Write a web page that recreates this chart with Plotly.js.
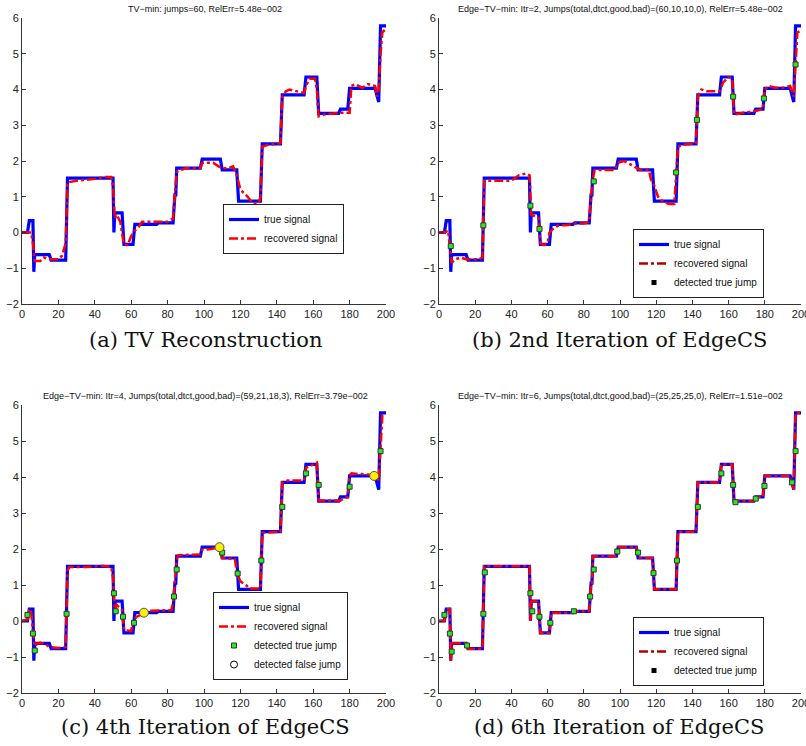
<!DOCTYPE html>
<html><head><meta charset="utf-8">
<script src="https://cdn.plot.ly/plotly-3.0.1.min.js"></script>
<style>html,body{margin:0;padding:0;background:#fff}</style>
</head><body><div id="chart" style="width:806px;height:746px"></div>
<script>
// ---- data ----
const TRUE_X = [0,3,4,6,6.5,7,15,16,24,25,50,50.5,51,55,56,61,62,74,75,83,84,84.5,85,98,99,109,110,118,119,131,132,142,143,155,156,162,163,174,175,179,180,194,196,197,200];
const TRUE_Y = [0,0,0.33,0.33,-1.1,-0.62,-0.62,-0.77,-0.77,1.52,1.52,0.0,0.55,0.55,-0.33,-0.33,0.23,0.23,0.27,0.27,1.05,1.05,1.8,1.8,2.05,2.05,1.75,1.75,0.88,0.88,2.48,2.48,3.85,3.85,4.35,4.35,3.33,3.33,3.45,3.45,4.03,4.03,3.65,5.78,5.78];

const REC_A_X = [0,5,6,7,10,12,15,20,22,24,25,30,40,45,49,50,51,52,54,56,58,60,62,64,66,70,74,80,83,84,85,90,98,99,105,108,110,113,116,118,120,124,127,130,131,132,135,142,143,145,147,155,156,158,161,162,163,166,175,180,181,183,187,190,194,195,196,197,198,200];
const REC_A_Y = [0,0,-0.3,-0.8,-0.8,-0.7,-0.75,-0.75,-0.65,-0.3,1.4,1.45,1.5,1.55,1.55,1.3,0.4,0.5,0.3,-0.35,-0.35,-0.1,0.05,0.15,0.3,0.3,0.28,0.3,0.4,1.0,1.7,1.8,1.8,1.95,1.95,1.85,1.8,1.8,1.85,1.6,1.2,1.0,0.8,0.8,1.0,2.4,2.45,2.5,3.8,3.95,4.0,3.9,4.1,4.3,4.3,4.0,3.25,3.3,3.35,3.35,4.1,4.15,4.05,4.15,4.1,3.8,4.0,5.0,5.6,5.7];

const REC_B_X = [0,3,5,6,7,9,12,15,22,24,25,28,35,40,44,48,50,51,53,55,56,58,60,61,63,66,70,76,80,83,84,85,86,90,97,99,102,106,109,111,116,117,119,121,124,127,130,131,132,135,142,143,145,148,155,157,160,162,163,168,175,179,180,182,186,190,194,196,197,198,200];
const REC_B_Y = [0,0,0.05,-0.4,-0.85,-0.75,-0.7,-0.75,-0.75,-0.7,1.45,1.45,1.45,1.45,1.6,1.65,1.6,0.5,0.45,0.4,-0.3,-0.35,-0.3,0.0,0.1,0.2,0.2,0.25,0.25,0.3,1.0,1.5,1.75,1.75,1.75,1.95,2.0,1.9,1.8,1.75,1.75,1.5,1.3,1.0,0.85,0.8,0.8,1.5,2.4,2.45,2.5,3.8,4.0,3.95,3.95,4.2,4.35,4.3,3.3,3.35,3.4,3.45,4.0,4.1,4.05,4.05,4.1,3.8,4.8,5.6,5.65];

const REC_C_X = [0,3,4,5,6,7,8,10,13,15,20,24,25,26,35,40,45,49,50,51,52,55,56,60,61,63,66,68,75,82,83,84,85,86,95,98,99,104,108,110,117,118,120,123,125,131,132,142,143,146,155,156,158,162,163,175,179,180,181,190,194,196,197,198,200];
const REC_C_Y = [0,0.05,0.3,0.3,-0.3,-0.7,-0.65,-0.6,-0.65,-0.72,-0.75,-0.72,1.4,1.5,1.5,1.52,1.53,1.5,1.2,0.3,0.45,0.3,-0.25,-0.28,0.0,0.12,0.18,0.28,0.28,0.3,0.5,1.05,1.7,1.83,1.83,1.85,1.98,2.0,2.05,1.75,1.72,1.35,1.1,1.0,0.9,0.9,2.45,2.48,3.85,3.9,3.9,4.25,4.3,4.4,3.35,3.35,3.45,4.05,4.1,4.07,4.05,3.9,4.8,5.7,5.72];

const JUMP_B_X = [6.5,24.5,50.5,55.5,85.5,131,142.5,162.5,179.5,197];
const JUMP_B_Y = [-0.38,0.2,0.75,0.1,1.43,1.68,3.15,3.8,3.75,4.7];

const JUMP_C_X = [3,6,7,24.5,50.5,51.5,55.5,61.5,83.5,85,110,118.5,131.5,143,156,163,180,197];
const JUMP_C_Y = [0.17,-0.35,-0.82,0.2,0.77,0.27,0.12,-0.05,0.68,1.43,1.9,1.32,1.68,3.17,4.1,3.78,3.73,4.72];
const FALSE_C_X = [67,108.5,193.5];
const FALSE_C_Y = [0.23,2.05,4.03];

const JUMP_D_X = [3,6,7,15.5,24.5,25.3,50.5,51.5,55.5,61.5,74.5,83.5,85.5,98.5,110,118.5,131.5,143,156,162.5,163.8,175,179.8,195,197];
const JUMP_D_Y = [0.17,-0.35,-0.85,-0.68,0.2,1.35,0.77,0.27,0.12,-0.05,0.27,0.68,1.43,1.93,1.9,1.33,1.68,3.17,4.1,3.78,3.3,3.4,3.75,3.85,4.72];

const TITLES = [
  'TV\u2212min: jumps=60, RelErr=5.48e\u2212002',
  'Edge\u2212TV\u2212min: Itr=2, Jumps(total,dtct,good,bad)=(60,10,10,0), RelErr=5.48e\u2212002',
  'Edge\u2212TV\u2212min: Itr=4, Jumps(total,dtct,good,bad)=(59,21,18,3), RelErr=3.79e\u2212002',
  'Edge\u2212TV\u2212min: Itr=6, Jumps(total,dtct,good,bad)=(25,25,25,0), RelErr=1.51e\u2212002'
];
const CAPTIONS = ['(a) TV Reconstruction','(b) 2nd Iteration of EdgeCS','(c) 4th Iteration of EdgeCS','(d) 6th Iteration of EdgeCS'];
const X_TICKS = [0,20,40,60,80,100,120,140,160,180,200];
const Y_TICKS = [-2,-1,0,1,2,3,4,5,6];
const Y_TICK_TEXT = ['\u22122','\u22121','0','1','2','3','4','5','6'];

// ---- styles ----
const BLUE = '#0000ff', RED = '#ff0000', GREEN = '#22ee22';
const axes = ['', '2', '3', '4'];
const legends = ['legend','legend2','legend3','legend4'];

function trueTrace(i){
  return {x:TRUE_X, y:TRUE_Y, mode:'lines', type:'scatter', name:'true signal',
    line:{color:BLUE, width:3.2}, xaxis:'x'+axes[i], yaxis:'y'+axes[i], legend:legends[i]};
}
function recTrace(i, xs, ys, show){
  return {x:xs, y:ys, mode:'lines', type:'scatter', name:'recovered signal', showlegend:show,
    line:{color:RED, width:2.5, dash:'dashdot'}, xaxis:'x'+axes[i], yaxis:'y'+axes[i], legend:legends[i]};
}
function jumpTrace(i, xs, ys, show){
  return {x:xs, y:ys, mode:'markers', type:'scatter', name:'detected true jump', showlegend:show,
    marker:{symbol:'square', size:5, color:GREEN, line:{color:'#333', width:1}},
    xaxis:'x'+axes[i], yaxis:'y'+axes[i], legend:legends[i]};
}
function legendLine(i){
  return {x:[null], y:[null], mode:'lines', type:'scatter', name:'recovered signal',
    line:{color:'#b00000', width:2.5, dash:'dashdot'}, xaxis:'x'+axes[i], yaxis:'y'+axes[i], legend:legends[i]};
}
function legendMarker(i){
  return {x:[null], y:[null], mode:'markers', type:'scatter', name:'detected true jump',
    marker:{symbol:'square', size:5, color:'#000'}, xaxis:'x'+axes[i], yaxis:'y'+axes[i], legend:legends[i]};
}

const data = [
  trueTrace(0), recTrace(0, REC_A_X, REC_A_Y, true),
  trueTrace(1), recTrace(1, REC_B_X, REC_B_Y, false), legendLine(1), jumpTrace(1, JUMP_B_X, JUMP_B_Y, false), legendMarker(1),
  trueTrace(2), recTrace(2, REC_C_X, REC_C_Y, true), jumpTrace(2, JUMP_C_X, JUMP_C_Y, true),
  {x:FALSE_C_X, y:FALSE_C_Y, mode:'markers', type:'scatter', name:'detected false jump', showlegend:false,
   marker:{symbol:'circle', size:9, color:'#ffee00', line:{color:'#555', width:1}}, xaxis:'x3', yaxis:'y3', legend:'legend3'},
  {x:[null], y:[null], mode:'markers', type:'scatter', name:'detected false jump',
   marker:{symbol:'circle-open', size:7, color:'#000', line:{width:1}}, xaxis:'x3', yaxis:'y3', legend:'legend3'},
  trueTrace(3), recTrace(3, TRUE_X, TRUE_Y, false), legendLine(3), jumpTrace(3, JUMP_D_X, JUMP_D_Y, false), legendMarker(3)
];

const W = 806, H = 746;
const xDom = [[22/W, 386/W],[439/W, 801/W],[22/W, 386/W],[439/W, 801/W]];
const yDom = [[1-304/H, 1-18/H],[1-304/H, 1-18/H],[1-693/H, 1-405/H],[1-693/H, 1-405/H]];
const tickFont = {family:'Liberation Sans, Arial, sans-serif', size:11, color:'#222'};

const layout = {
  width:W, height:H, margin:{l:0,r:0,t:0,b:0}, paper_bgcolor:'#fff', plot_bgcolor:'#fff',
  font:{family:'Liberation Sans, Arial, sans-serif', color:'#222'},
  annotations:[]
};
// legend left edge x and bottom edge y (pixels)
const legPos = [[223,254],[633,298],[213,680],[633,686]];
const titleCx = [205, 620, 205, 620];
const captionCx = [205, 619, 205, 619];
const captionY = [340, 340, 727, 727];
for (let i=0;i<4;i++){
  const s = axes[i];
  layout['xaxis'+s] = {domain:xDom[i], range:[0,200], anchor:'y'+s, tickvals:X_TICKS, ticks:'inside', ticklen:4,
    tickcolor:'#333', showline:true, linecolor:'#333', linewidth:1, showgrid:false, zeroline:false, tickfont:tickFont, mirror:false,
    ticklabeloverflow:'allow'};
  layout['yaxis'+s] = {domain:yDom[i], range:[-2,6], anchor:'x'+s, tickvals:Y_TICKS, ticktext:Y_TICK_TEXT, ticks:'inside', ticklen:4,
    tickcolor:'#333', showline:true, linecolor:'#333', linewidth:1, showgrid:false, zeroline:false, tickfont:tickFont, mirror:false};
  layout[legends[i]] = {x:legPos[i][0]/W, y:1-legPos[i][1]/H, xanchor:'left', yanchor:'bottom',
    bgcolor:'#fff', bordercolor:'#222', borderwidth:1, font:{family:'Liberation Sans, Arial, sans-serif', size:10, color:'#111'},
    itemwidth:30, tracegroupgap:0};
  layout.annotations.push({text:TITLES[i], xref:'paper', yref:'paper', x:titleCx[i]/W, xanchor:'center', y:yDom[i][1], yanchor:'bottom', yshift:2,
    showarrow:false, font:{family:'Liberation Sans, Arial, sans-serif', size:9, color:'#111'}});
  layout.annotations.push({text:CAPTIONS[i], xref:'paper', yref:'paper', x:captionCx[i]/W, xanchor:'center', y:1-captionY[i]/H, yanchor:'middle',
    showarrow:false, font:{family:'DejaVu Serif, serif', size:21, color:'#111'}});
}
Plotly.newPlot('chart', data, layout, {displayModeBar:false, staticPlot:true});
</script></body></html>
